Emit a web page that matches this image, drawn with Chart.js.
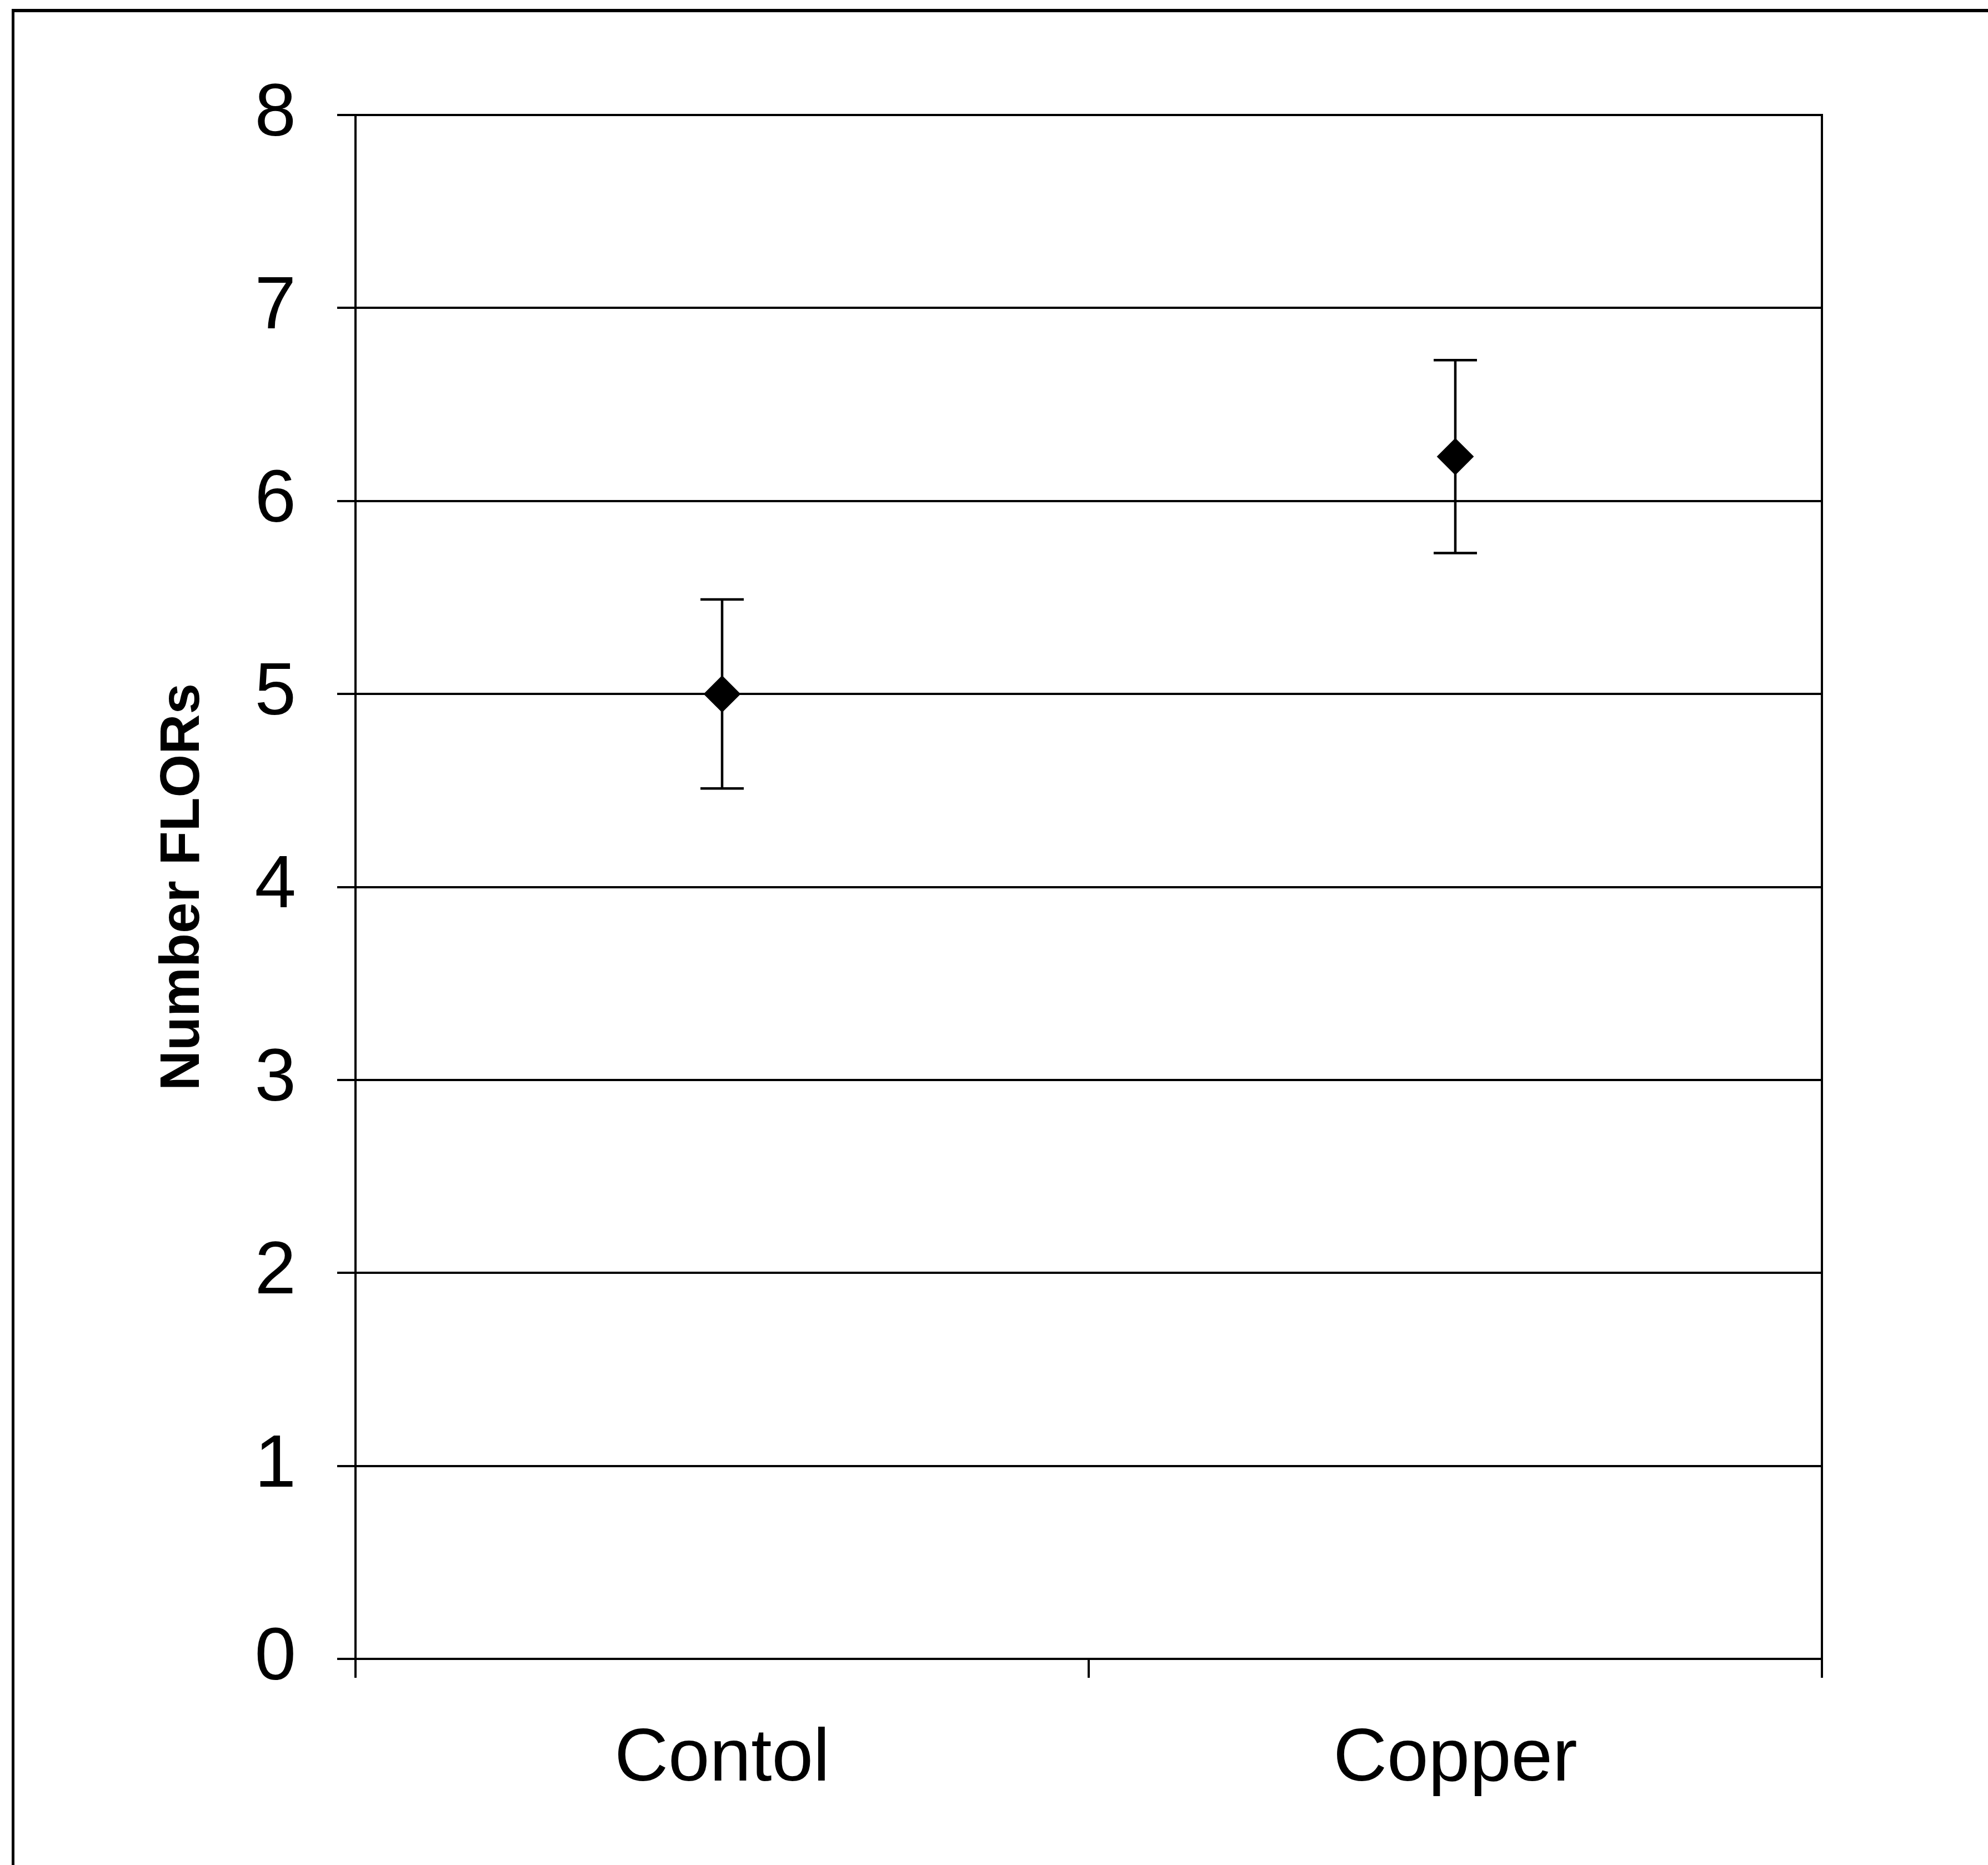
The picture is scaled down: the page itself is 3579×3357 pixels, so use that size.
<!DOCTYPE html>
<html>
<head>
<meta charset="utf-8">
<script src="https://cdn.jsdelivr.net/npm/chart.js@4/dist/chart.umd.min.js"></script>
<style>
    html, body { margin: 0; padding: 0; background: #fff; overflow: hidden; }
    #frame {
        position: absolute; left: 21px; top: 16px;
        width: 3600px; height: 3400px;
        border-left: 5px solid #000; border-top: 6px solid #000;
        pointer-events: none;
    }
    #chart { position: absolute; left: 0; top: 0; }
</style>
</head>
<body>
<canvas id="chart" width="3579" height="3357"></canvas>
<div id="frame"></div>
<script>
// chart data
const categories = ["Contol", "Copper"];
const means = [5.0, 6.23];
const errors = [0.49, 0.5];
const yTickValues = [0, 1, 2, 3, 4, 5, 6, 7, 8];

// draws the vertical error bars with caps
const errorBars = {
    id: 'errorBars',
    beforeDatasetsDraw(chart) {
        const ctx = chart.ctx;
        const x = chart.scales.x;
        const y = chart.scales.y;
        ctx.save();
        ctx.strokeStyle = '#000';
        ctx.lineWidth = 4.5;
        means.forEach((m, i) => {
            const px = x.getPixelForValue(i);
            const top = y.getPixelForValue(m + errors[i]);
            const bot = y.getPixelForValue(m - errors[i]);
            ctx.beginPath();
            ctx.moveTo(px, top); ctx.lineTo(px, bot);
            ctx.moveTo(px - 39, top); ctx.lineTo(px + 39, top);
            ctx.moveTo(px - 39, bot); ctx.lineTo(px + 39, bot);
            ctx.stroke();
        });
        ctx.restore();
    }
};

const tickFont = { family: "'Liberation Sans', Arial, sans-serif", size: 134 };

new Chart(document.getElementById('chart'), {
    type: 'line',
    data: {
        labels: categories,
        datasets: [{
            data: means,
            showLine: false,
            pointStyle: 'rectRot',
            pointRadius: 32,
            pointBorderWidth: 2,
            pointBackgroundColor: '#000',
            pointBorderColor: '#000'
        }]
    },
    options: {
        responsive: false,
        animation: false,
        layout: { padding: { left: 270, top: 207, right: 299, bottom: 0 } },
        plugins: { legend: { display: false }, tooltip: { enabled: false } },
        scales: {
            x: {
                offset: true,
                grid: { offset: true, drawOnChartArea: false, drawTicks: true, tickLength: 34, color: '#000', lineWidth: 4 },
                border: { display: true, color: '#000', width: 4 },
                ticks: { font: tickFont, color: '#000', padding: 68 },
                afterFit: (s) => { s.height = 371; }
            },
            y: {
                min: 0,
                max: 8,
                afterBuildTicks: (s) => { s.ticks = yTickValues.map(v => ({ value: v })); },
                grid: { color: '#000', lineWidth: 4, tickLength: 33 },
                border: { display: true, color: '#000', width: 4 },
                ticks: { font: tickFont, color: '#000', padding: 74 },
                title: {
                    display: true,
                    text: 'Number FLORs',
                    color: '#000',
                    padding: 0,
                    font: { family: "'Liberation Sans', Arial, sans-serif", size: 100, weight: 'bold' }
                },
                afterFit: (s) => { s.width = 370; }
            },
            y2: {
                position: 'right',
                min: 0,
                max: 8,
                ticks: { display: false },
                grid: { display: false, drawTicks: false },
                border: { display: true, color: '#000', width: 4 },
                afterFit: (s) => { s.width = 0; }
            }
        }
    },
    plugins: [errorBars]
});
</script>
</body>
</html>
